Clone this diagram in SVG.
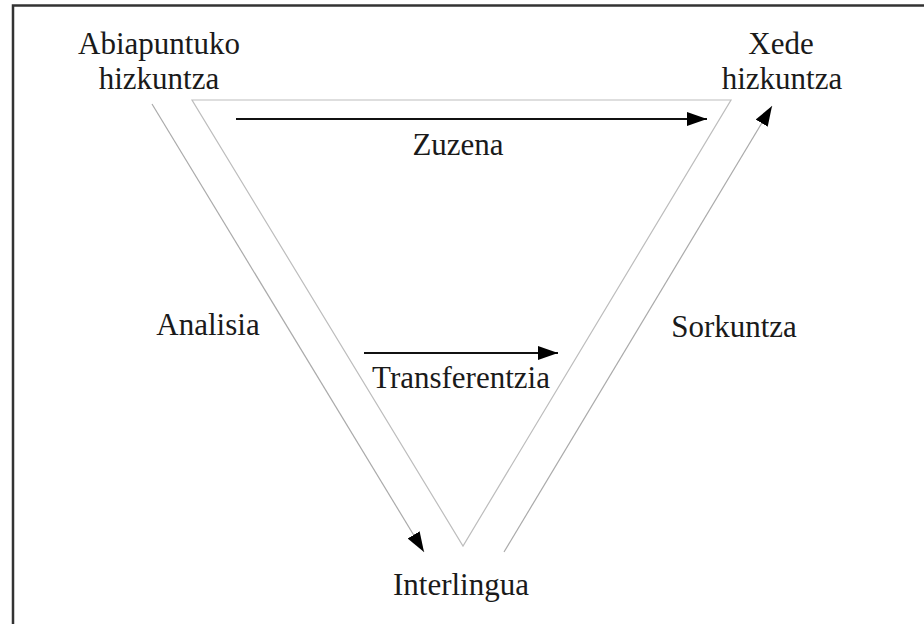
<svg xmlns="http://www.w3.org/2000/svg" width="924" height="624" viewBox="0 0 924 624">
  <style>
    .frame { fill: none; stroke: #333; stroke-width: 2.5; }
    .band { fill: none; stroke: #bdbdbd; stroke-width: 1.2; }
    .flow { fill: none; stroke: #111; stroke-width: 2.2; }
    .thin { fill: none; stroke: #aaa; stroke-width: 1.2; }
    text { font-family: "Liberation Serif", "Times New Roman", serif; font-size: 31px; fill: #1a1a1a; text-anchor: middle; }
  </style>
  <defs>
    <marker id="head" markerUnits="userSpaceOnUse" markerWidth="22" markerHeight="16" refX="20" refY="7" orient="auto">
      <path d="M0,0 L20,7 L0,14 Z" fill="#000"/>
    </marker>
  </defs>
  <rect width="924" height="624" fill="#fff"/>
  <path class="frame" d="M13,626 V5.5 H926"/>

  <g id="abiapuntuko">
    <text x="159" y="54">Abiapuntuko</text>
    <text x="159" y="89">hizkuntza</text>
  </g>
  <g id="xede">
    <text x="781" y="54">Xede</text>
    <text x="782" y="89">hizkuntza</text>
  </g>
  <g id="interlingua">
    <text x="461" y="595">Interlingua</text>
  </g>

  <g id="connectors">
    <!-- inner triangle: direct path across the top, transfer level inside -->
    <path class="band" d="M192,100 H731 L463,546 Z"/>
    <path class="flow" d="M236,119 H707" marker-end="url(#head)"/>
    <path class="flow" d="M364,353 H558" marker-end="url(#head)"/>
    <!-- analysis down, generation up -->
    <path class="thin" d="M152,104 L424,552" marker-end="url(#head)"/>
    <path class="thin" d="M504,552 L772,106" marker-end="url(#head)"/>
  </g>

  <g id="labels">
    <text x="458" y="155">Zuzena</text>
    <text x="208" y="335">Analisia</text>
    <text x="734" y="337">Sorkuntza</text>
    <text x="461" y="388">Transferentzia</text>
  </g>
</svg>
